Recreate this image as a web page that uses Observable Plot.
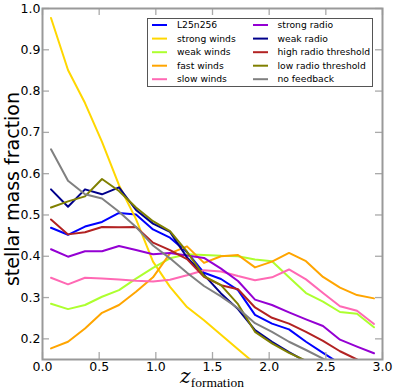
<!DOCTYPE html>
<html>
<head>
<meta charset="utf-8">
<script src="https://cdn.jsdelivr.net/npm/d3@7"></script>
<script src="https://cdn.jsdelivr.net/npm/@observablehq/plot@0.6"></script>
<style>
  html, body { margin: 0; padding: 0; background: #fff; }
</style>
</head>
<body>
<div id="chart"></div>
<script>
// ---- data ----
const zForm = [0.075, 0.225, 0.375, 0.525, 0.675, 0.825, 0.975, 1.125, 1.275, 1.425,
               1.575, 1.725, 1.875, 2.025, 2.175, 2.325, 2.475, 2.625, 2.775, 2.925];

const seriesNames = ["L25n256", "strong winds", "weak winds", "fast winds", "slow winds",
                     "strong radio", "weak radio", "high radio threshold", "low radio threshold", "no feedback"];
const seriesColors = ["#0000ff", "#ffd700", "#adff2f", "#ffa500", "#ff69b4",
                      "#9400d3", "#00008b", "#b22222", "#808000", "#808080"];

const L25n256      = [0.469, 0.452, 0.472, 0.483, 0.505, 0.501, 0.465, 0.445, 0.41, 0.36, 0.345, 0.318, 0.258, 0.237, 0.223, 0.193, 0.166, 0.14];
const strongWinds  = [0.977, 0.851, 0.771, 0.677, 0.572, 0.49, 0.387, 0.326, 0.277, 0.245, 0.21, 0.175, 0.14];
const weakWinds    = [0.285, 0.272, 0.282, 0.302, 0.318, 0.346, 0.372, 0.395, 0.405, 0.403, 0.401, 0.4, 0.392, 0.388, 0.349, 0.311, 0.29, 0.265, 0.261, 0.228];
const fastWinds    = [0.177, 0.193, 0.225, 0.263, 0.282, 0.314, 0.349, 0.407, 0.424, 0.384, 0.4, 0.403, 0.373, 0.387, 0.408, 0.388, 0.35, 0.324, 0.306, 0.298];
const slowWinds    = [0.348, 0.332, 0.348, 0.346, 0.344, 0.341, 0.339, 0.343, 0.354, 0.366, 0.363, 0.352, 0.342, 0.349, 0.368, 0.344, 0.311, 0.279, 0.268, 0.236];
const strongRadio  = [0.417, 0.399, 0.412, 0.412, 0.425, 0.415, 0.405, 0.408, 0.402, 0.396, 0.37, 0.34, 0.295, 0.282, 0.264, 0.247, 0.231, 0.198, 0.181, 0.165];
const weakRadio    = [0.562, 0.52, 0.562, 0.55, 0.567, 0.512, 0.479, 0.459, 0.397, 0.355, 0.31, 0.272, 0.221, 0.193, 0.168, 0.145];
const highRadioThr = [0.489, 0.453, 0.458, 0.471, 0.47, 0.471, 0.433, 0.415, 0.393, 0.35, 0.33, 0.32, 0.276, 0.251, 0.237, 0.217, 0.195, 0.17, 0.15, 0.13];
const lowRadioThr  = [0.518, 0.533, 0.545, 0.587, 0.558, 0.518, 0.485, 0.461, 0.411, 0.352, 0.33, 0.284, 0.217, 0.189, 0.166, 0.147, 0.13];
const noFeedback   = [0.659, 0.583, 0.55, 0.54, 0.508, 0.471, 0.426, 0.395, 0.36, 0.328, 0.303, 0.274, 0.238, 0.217, 0.193, 0.173, 0.152, 0.13];

const seriesValues = [L25n256, strongWinds, weakWinds, fastWinds, slowWinds,
                      strongRadio, weakRadio, highRadioThr, lowRadioThr, noFeedback];

const xTickLabels = [0.0, 0.5, 1.0, 1.5, 2.0, 2.5, 3.0];
const yTickLabels = [0.2, 0.3, 0.4, 0.5, 0.6, 0.7, 0.8, 0.9, 1.0];
const xLabelMain = "z";
const xLabelSub = "formation";
const yLabel = "stellar mass fraction";

// ---- build table ----
const rows = [];
seriesNames.forEach((name, s) => {
  seriesValues[s].forEach((v, i) => rows.push({series: name, z: zForm[i], f: v}));
});

const W = 395, H = 392;
const mTop = 8, mRight = 13, mBottom = 33, mLeft = 42;
const innerH = H - mTop - mBottom, innerW = W - mLeft - mRight;
const tickLen = 7;
const tickColor = "#aaaaaa";

const svg = Plot.plot({
  width: W, height: H,
  marginTop: mTop, marginRight: mRight, marginBottom: mBottom, marginLeft: mLeft,
  style: {fontFamily: "'DejaVu Sans', sans-serif", fontSize: "12.5px", color: "#000", background: "#fff"},
  x: {domain: [0, 3]},
  y: {domain: [0.15, 1.0]},
  color: {domain: seriesNames, range: seriesColors},
  marks: [
    Plot.line(rows, {x: "z", y: "f", z: "series", stroke: "series", strokeWidth: 2, clip: true}),
    // inward tick marks on all four sides
    Plot.tickX(xTickLabels, {x: d => d, insetTop: innerH - tickLen, stroke: tickColor, strokeWidth: 1.3}),
    Plot.tickX(xTickLabels, {x: d => d, insetBottom: innerH - tickLen, stroke: tickColor, strokeWidth: 1.3}),
    Plot.tickY(yTickLabels, {y: d => d, insetRight: innerW - tickLen, stroke: tickColor, strokeWidth: 1.3}),
    Plot.tickY(yTickLabels, {y: d => d, insetLeft: innerW - tickLen, stroke: tickColor, strokeWidth: 1.3}),
    Plot.frame({stroke: "#999999", strokeWidth: 2}),
    Plot.axisX({ticks: xTickLabels, tickSize: 0, tickPadding: 3, tickFormat: d3.format(".1f"), label: null}),
    Plot.axisY({ticks: yTickLabels, tickSize: 0, tickPadding: 2, tickFormat: d3.format(".1f"), label: null})
  ]
});

const root = d3.select(svg);

// y-axis label
root.append("text")
  .attr("transform", "translate(19,189) rotate(-90)")
  .attr("text-anchor", "middle")
  .style("font-family", "'DejaVu Sans', sans-serif")
  .style("font-size", "19px")
  .attr("fill", "#000")
  .text(yLabel);

// x-axis label (math style)
const xl = root.append("text")
  .attr("x", 212).attr("y", 383)
  .attr("text-anchor", "middle")
  .style("font-family", "'DejaVu Serif', 'Liberation Serif', serif")
  .attr("fill", "#000");
xl.append("tspan").style("font-style", "italic").style("font-size", "20px").text(xLabelMain);
xl.append("tspan").attr("dy", 4).style("font-family", "'Liberation Serif', serif").style("font-size", "13.5px").text(xLabelSub);

// legend
const lg = root.append("g").attr("text-anchor", "start");
lg.append("rect")
  .attr("x", 147.5).attr("y", 18.5).attr("width", 225).attr("height", 68)
  .attr("fill", "#fff").attr("stroke", "#555").attr("stroke-width", 1);
const rowY = [25, 38.6, 52.2, 65.7, 79.2];
seriesNames.forEach((name, s) => {
  const col = s < 5 ? 0 : 1;
  const r = s % 5;
  const lx = col === 0 ? 152 : 253;
  const tx = col === 0 ? 177 : 277.5;
  lg.append("line")
    .attr("x1", lx).attr("x2", lx + 15).attr("y1", rowY[r]).attr("y2", rowY[r])
    .attr("stroke", seriesColors[s]).attr("stroke-width", 2);
  lg.append("text")
    .attr("x", tx).attr("y", rowY[r]).attr("dy", "0.35em")
    .attr("text-anchor", "start")
    .style("font-family", "'DejaVu Sans', sans-serif")
    .style("font-size", "9.2px")
    .attr("fill", "#000")
    .text(name);
});

document.getElementById("chart").appendChild(svg);
</script>
</body>
</html>
